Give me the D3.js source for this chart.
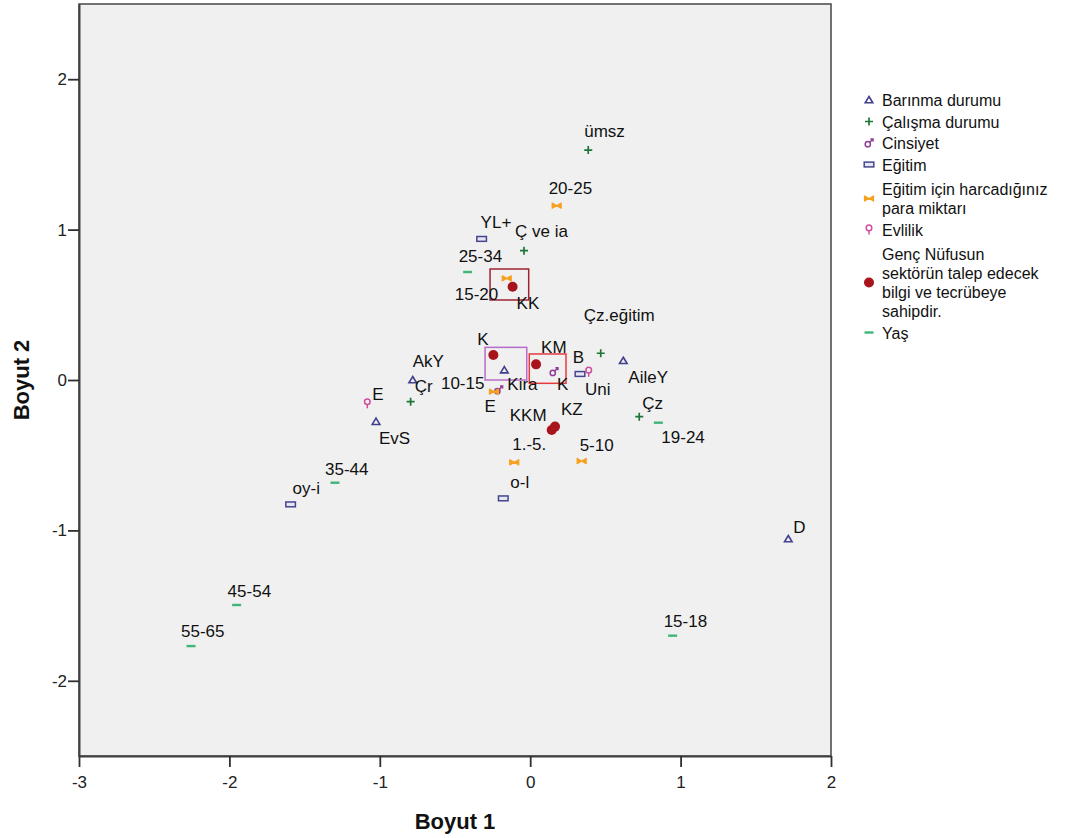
<!DOCTYPE html>
<html>
<head>
<meta charset="utf-8">
<script src="https://cdn.jsdelivr.net/npm/d3@7"></script>
<style>
  body { margin: 0; background: #fff; }
  svg { display: block; font-family: "Liberation Sans", Arial, sans-serif; }
</style>
</head>
<body>
<div id="chart"></div>
<script>
// Groups (variables) in legend order
const groups = [
  "Barınma durumu",
  "Çalışma durumu",
  "Cinsiyet",
  "Eğitim",
  "Eğitim için harcadığınız para miktarı",
  "Evlilik",
  "Genç Nüfusun sektörün talep edecek bilgi ve tecrübeye sahipdir.",
  "Yaş"
];
const legendLines = [
  ["Barınma durumu"],
  ["Çalışma durumu"],
  ["Cinsiyet"],
  ["Eğitim"],
  ["Eğitim için harcadığınız", "para miktarı"],
  ["Evlilik"],
  ["Genç Nüfusun", "sektörün talep edecek", "bilgi ve tecrübeye", "sahipdir."],
  ["Yaş"]
];

// Category points
const pointLabels = [
  "Kira", "AkY", "EvS", "AileY", "D",
  "ümsz", "Ç ve ia", "Çz.eğitim", "Çr", "Çz",
  "E", "K",
  "YL+", "Uni", "o-l", "oy-i",
  "20-25", "15-20", "10-15", "1.-5.", "5-10",
  "E", "B",
  "KK", "K", "KM", "KKM", "KZ",
  "25-34", "35-44", "45-54", "55-65", "19-24", "15-18"
];
const pointGroup = [
  0, 0, 0, 0, 0,
  1, 1, 1, 1, 1,
  2, 2,
  3, 3, 3, 3,
  4, 4, 4, 4, 4,
  5, 5,
  6, 6, 6, 6, 6,
  7, 7, 7, 7, 7, 7
];
const boyut1 = [
  -0.172, -0.781, -1.025, 0.619, 1.716,
  0.386, -0.041, 0.469, -0.795, 0.725,
  -0.210, 0.158,
  -0.323, 0.331, -0.179, -1.593,
  0.176, -0.156, -0.241, -0.106, 0.342,
  -1.083, 0.389,
  -0.117, -0.245, 0.039, 0.143, 0.165,
  -0.416, -1.298, -1.952, -2.255, 0.852, 0.947
];
const boyut2 = [
  0.066, 0.000, -0.277, 0.128, -1.057,
  1.529, 0.860, 0.178, -0.144, -0.244,
  -0.066, 0.055,
  0.938, 0.040, -0.787, -0.827,
  1.159, 0.676, -0.078, -0.547, -0.539,
  -0.155, 0.055,
  0.620, 0.166, 0.104, -0.332, -0.310,
  0.718, -0.683, -1.496, -1.769, -0.284, -1.700
];

// Highlight boxes drawn on the plot (data coords: x0, x1, y0, y1)
const boxX0 = [-0.267, -0.300, -0.006];
const boxX1 = [-0.010, -0.023, 0.238];
const boxY0 = [0.532, 0.000, -0.022];
const boxY1 = [0.738, 0.217, 0.173];
const boxColors = ["#9e2432", "#b86cc9", "#e63a3f"];

const xTicks = [-3, -2, -1, 0, 1, 2];
const yTicks = [-2, -1, 0, 1, 2];

// Label placement nudges (px from point to label start / baseline)
const labelNudge = [
  [3, 20], [0, -13], [3, 22], [5, 22], [5, -6],
  [-4, -13], [-9, -14], [-17, -32], [4, -10], [3, -8],
  [-14, 22], [3, 18],
  [-1, -11], [5, 21], [7, -10], [2, -10],
  [-8, -12], [-52, 22], [-53, -3], [-2, -12], [-2, -10],
  [5, -3], [-16, -9],
  [4, 22], [-16, -10], [5, -11], [-42, -9], [6, -12],
  [-9, -10], [-10, -8], [-9, -8], [-10, -9], [3, 20], [-9, -9]
];

const groupColors = ["#40408f", "#1d7636", "#8f3f98", "#45458f", "#f5a01e", "#cc4f9e", "#a8141c", "#3fb57a"];

const width = 1070, height = 838;
const plot = { left: 79, right: 831, top: 4, bottom: 756 };

const x = d3.scaleLinear().domain([-3, 2]).range([plot.left, plot.right]);
const y = d3.scaleLinear().domain([-2.5, 2.5]).range([plot.bottom, plot.top]);

const svg = d3.select("#chart").append("svg")
  .attr("width", width)
  .attr("height", height);

// Plot background
svg.append("rect")
  .attr("x", plot.left).attr("y", plot.top)
  .attr("width", plot.right - plot.left)
  .attr("height", plot.bottom - plot.top)
  .attr("fill", "#f0f0f0")
  .attr("stroke", "#505050")
  .attr("stroke-width", 1.6);

// Axes
const xAxis = svg.append("g")
  .attr("transform", `translate(0,${plot.bottom})`)
  .call(d3.axisBottom(x).tickValues(xTicks).tickSize(11).tickSizeOuter(0).tickFormat(d3.format("d")));
const yAxis = svg.append("g")
  .attr("transform", `translate(${plot.left},0)`)
  .call(d3.axisLeft(y).tickValues(yTicks).tickSize(11).tickSizeOuter(0).tickFormat(d3.format("d")));

[xAxis, yAxis].forEach(a => {
  a.select(".domain").attr("stroke", "#404040").attr("stroke-width", 2);
  a.selectAll(".tick line").attr("stroke", "#303030").attr("stroke-width", 1.8);
  a.selectAll(".tick text")
    .attr("fill", "#222")
    .attr("font-size", "17px")
    .attr("font-family", "Liberation Sans, Arial, sans-serif");
});
xAxis.selectAll(".tick text").attr("dy", "1.05em");
yAxis.selectAll(".tick text").attr("x", -12);

// Replace the hyphen in negative labels (d3 uses a true minus sign)
xAxis.selectAll(".tick text").text(d => String(d));
yAxis.selectAll(".tick text").text(d => String(d));

// Axis titles
svg.append("text")
  .attr("x", (plot.left + plot.right) / 2)
  .attr("y", 829)
  .attr("text-anchor", "middle")
  .attr("font-size", "22px")
  .attr("font-weight", "bold")
  .attr("fill", "#111")
  .text("Boyut 1");

svg.append("text")
  .attr("transform", `translate(29,${(plot.top + plot.bottom) / 2}) rotate(-90)`)
  .attr("text-anchor", "middle")
  .attr("font-size", "22px")
  .attr("font-weight", "bold")
  .attr("fill", "#111")
  .text("Boyut 2");

// Marker drawing per group
function drawMarker(sel, gi, cx, cy) {
  const c = groupColors[gi];
  const g = sel.append("g").attr("transform", `translate(${cx},${cy})`);
  switch (gi) {
    case 0: // open triangle
      g.append("path").attr("d", "M0,-3.5L3.8,2.8L-3.8,2.8Z")
        .attr("fill", "none").attr("stroke", c).attr("stroke-width", 1.6);
      break;
    case 1: // plus
      g.append("path").attr("d", "M-4,0H4M0,-4V4")
        .attr("stroke", c).attr("stroke-width", 1.7);
      break;
    case 2: // male sign
      g.append("circle").attr("cx", -1.2).attr("cy", 1.2).attr("r", 2.6)
        .attr("fill", "none").attr("stroke", c).attr("stroke-width", 1.5);
      g.append("path").attr("d", "M0.8,-0.8L4,-4M1.4,-4H4V-1.4")
        .attr("fill", "none").attr("stroke", c).attr("stroke-width", 1.5);
      break;
    case 3: // open rectangle
      g.append("rect").attr("x", -4.8).attr("y", -2.4).attr("width", 9.6).attr("height", 4.8)
        .attr("fill", "#e6e6f2").attr("stroke", c).attr("stroke-width", 1.5);
      break;
    case 4: // bowtie
      g.append("path").attr("d", "M-4.5,-2.6L4.5,2.6V-2.6L-4.5,2.6Z")
        .attr("fill", c).attr("stroke", c).attr("stroke-width", 1.2).attr("stroke-linejoin", "round");
      break;
    case 5: // female sign
      g.append("circle").attr("cx", 0).attr("cy", -1.6).attr("r", 2.8)
        .attr("fill", "none").attr("stroke", c).attr("stroke-width", 1.5);
      g.append("path").attr("d", "M0,1.2V5")
        .attr("stroke", c).attr("stroke-width", 1.5);
      break;
    case 6: // filled circle
      g.append("circle").attr("r", 5).attr("fill", c);
      break;
    case 7: // dash
      g.append("path").attr("d", "M-4.5,0H4.5")
        .attr("stroke", c).attr("stroke-width", 2.4);
      break;
  }
}

// Points
const pts = pointLabels.map((label, i) => ({
  label, g: pointGroup[i], x: boyut1[i], y: boyut2[i], nudge: labelNudge[i]
}));

const markLayer = svg.append("g");
pts.forEach(p => drawMarker(markLayer, p.g, x(p.x), y(p.y)));

// Highlight boxes
svg.append("g").selectAll("rect")
  .data(boxX0.map((d, i) => i))
  .join("rect")
  .attr("x", i => x(boxX0[i]))
  .attr("y", i => y(boxY1[i]))
  .attr("width", i => x(boxX1[i]) - x(boxX0[i]))
  .attr("height", i => y(boxY0[i]) - y(boxY1[i]))
  .attr("fill", "none")
  .attr("stroke", i => boxColors[i])
  .attr("stroke-width", 1.5);

// Point labels
svg.append("g").selectAll("text")
  .data(pts)
  .join("text")
  .attr("x", d => x(d.x) + d.nudge[0])
  .attr("y", d => y(d.y) + d.nudge[1])
  .attr("font-size", "17px")
  .attr("fill", "#111")
  .text(d => d.label);

// Legend
const legend = svg.append("g");
let baseY = 106;
legendLines.forEach((lines, gi) => {
  if (gi > 0) baseY += lines.length > 1 ? 24.5 : 21.5;
  const first = baseY;
  lines.forEach((ln, li) => {
    legend.append("text")
      .attr("x", 882)
      .attr("y", first + li * 19)
      .attr("font-size", "16px")
      .attr("fill", "#111")
      .text(ln);
  });
  drawMarker(legend, gi, 869, first + (lines.length - 1) * 19 / 2 - 6);
  baseY = first + (lines.length - 1) * 19;
});
</script>
</body>
</html>
